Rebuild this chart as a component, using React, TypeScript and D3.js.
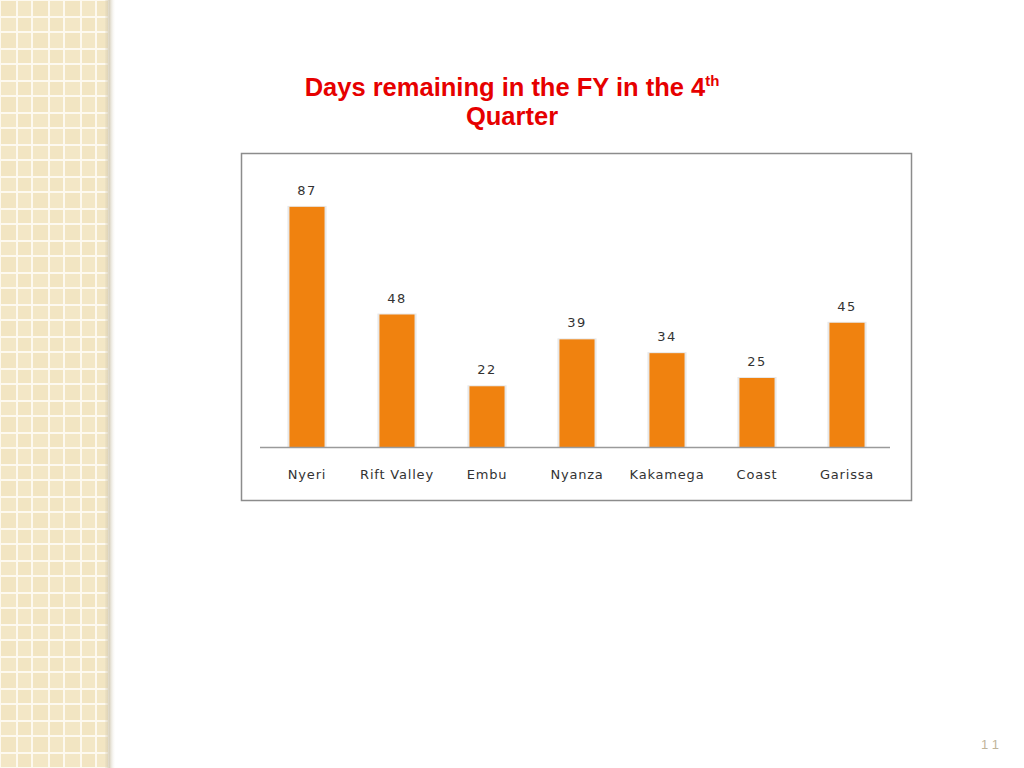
import React from "react";
import * as d3 from "d3";

const categories = ["Nyeri", "Rift Valley", "Embu", "Nyanza", "Kakamega", "Coast", "Garissa"];
const values = [87, 48, 22, 39, 34, 25, 45];
const titleLine1 = "Days remaining in the FY in the 4";
const titleSup = "th";
const titleLine2 = "Quarter";
const pageNumber = "11";

export default function App() {
  const W = 1024, H = 768;
  const x = d3.scaleBand<string>().domain(categories).range([262, 892]).paddingInner(0.61).paddingOuter(0.305);
  const y = d3.scaleLinear().domain([0, 100]).range([447, 171]);
  return (
    <div style={{ position: "fixed", left: 0, top: 0, width: W, height: H, background: "#fff" }}>
      <svg width={W} height={H} style={{ display: "block" }}>
        <defs>
          <pattern id="tile" width="32" height="32" patternUnits="userSpaceOnUse">
            <rect width="32" height="32" fill="#fdf9ef" />
            <rect x="1" y="1" width="15" height="15" fill="#f2e5c2" />
            <rect x="18" y="1" width="13" height="15" fill="#f3e7c6" />
            <rect x="1" y="18" width="15" height="13" fill="#f3e7c6" />
            <rect x="18" y="18" width="13" height="13" fill="#f2e5c2" />
          </pattern>
          <linearGradient id="shade" x1="0" x2="1" y1="0" y2="0">
            <stop offset="0" stopColor="#d8cfb8" stopOpacity="0.2" />
            <stop offset="0.4" stopColor="#cfc6ae" stopOpacity="0.8" />
            <stop offset="1" stopColor="#ffffff" stopOpacity="0" />
          </linearGradient>
        </defs>
        <rect x={0} y={0} width={108} height={H} fill="url(#tile)" />
        <rect x={105} y={0} width={11} height={H} fill="url(#shade)" />

        <text x={512} y={96} textAnchor="middle" fill="#e60000" fontFamily="Liberation Sans, Arial, sans-serif" fontWeight="bold" fontSize={25.5}>
          {titleLine1}
          <tspan dy={-10} fontSize={15}>{titleSup}</tspan>
        </text>
        <text x={512} y={125} textAnchor="middle" fill="#e60000" fontFamily="Liberation Sans, Arial, sans-serif" fontWeight="bold" fontSize={25.5}>
          {titleLine2}
        </text>

        <rect x={241.5} y={153.5} width={670} height={347} fill="#fff" stroke="#8c8c8c" strokeWidth={1.5} />

        {categories.map((c, i) => {
          const bx = x(c)!;
          const bw = x.bandwidth();
          const top = y(values[i]);
          return (
            <g key={c}>
              <rect x={bx - 2} y={top - 1} width={bw + 4} height={y(0) - top + 1} fill="#e8e8e8" />
              <rect x={bx} y={top} width={bw} height={y(0) - top} fill="#f0820f" />
              <text x={bx + bw / 2} y={top - 12} textAnchor="middle" fill="#333" fontFamily="DejaVu Sans, Verdana, sans-serif" fontSize={13} letterSpacing={1.5}>
                {values[i]}
              </text>
              <text x={bx + bw / 2} y={479} textAnchor="middle" fill="#333" fontFamily="DejaVu Sans, Verdana, sans-serif" fontSize={13} letterSpacing={0.8}>
                {c}
              </text>
            </g>
          );
        })}
        <line x1={260} x2={890} y1={447.5} y2={447.5} stroke="#9a9a9a" strokeWidth={1.5} />

        <text x={990} y={749} textAnchor="middle" fill="#bfb49a" fontFamily="Liberation Sans, Arial, sans-serif" fontSize={13}>
          {pageNumber.split("").join(" ")}
        </text>
      </svg>
    </div>
  );
}
